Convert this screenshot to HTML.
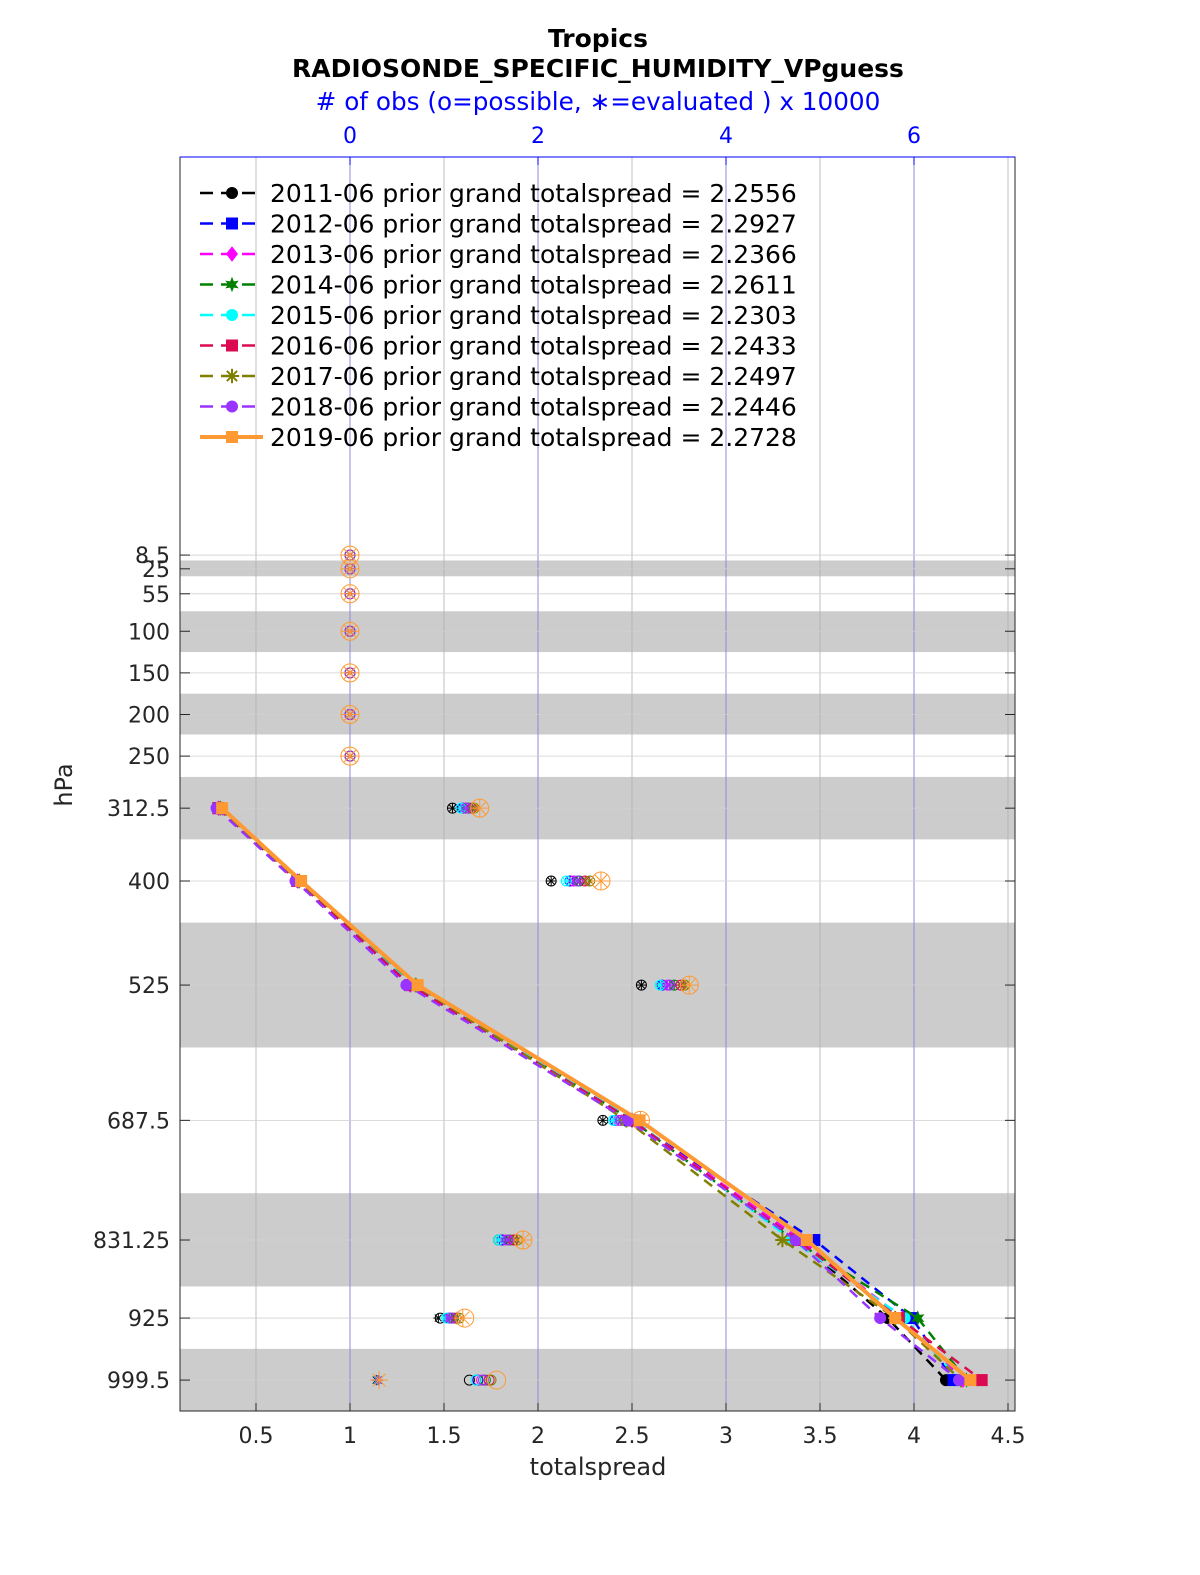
<!DOCTYPE html>
<html><head><meta charset="utf-8"><style>
body{margin:0;background:#fff}
svg{display:block;font-family:"DejaVu Sans","Liberation Sans",sans-serif}
</style></head><body>
<svg id="chart" width="1200" height="1575">
<rect width="1200" height="1575" fill="#fff"/>
<g id="bands"></g><g id="grid"></g><g id="marks"></g><g id="axes"></g><g id="legend"></g>
<text x="598" y="47" text-anchor="middle" font-size="25" font-weight="bold">Tropics</text>
<text x="598" y="77" text-anchor="middle" font-size="25" font-weight="bold">RADIOSONDE_SPECIFIC_HUMIDITY_VPguess</text>
<text x="598" y="110" text-anchor="middle" font-size="24.7" fill="#0000ff"># of obs (o=possible, ∗=evaluated ) x 10000</text>
<text x="598" y="1475" text-anchor="middle" font-size="24" fill="#262626">totalspread</text>
<text transform="translate(72,785) rotate(-90)" text-anchor="middle" font-size="24" fill="#262626">hPa</text>
</svg>
<script>
const levels=[8.5,25,55,100,150,200,250,312.5,400,525,687.5,831.25,925,999.5];
const levelLabels=["8.5","25","55","100","150","200","250","312.5","400","525","687.5","831.25","925","999.5"];
const dataLevels=[312.5,400,525,687.5,831.25,925,999.5];
const bands=[[15,34],[76,125],[175,224],[275,350],[450,600],[775,887],[962,1037]];
const xTicks=[0.5,1,1.5,2,2.5,3,3.5,4,4.5];
const xTickLabels=["0.5","1","1.5","2","2.5","3","3.5","4","4.5"];
const obsTicks=[0,2,4,6];
const seriesNames=["2011-06","2012-06","2013-06","2014-06","2015-06","2016-06","2017-06","2018-06","2019-06"];
const seriesTotals=["2.2556","2.2927","2.2366","2.2611","2.2303","2.2433","2.2497","2.2446","2.2728"];
const s2011=[0.30,0.72,1.32,2.50,3.38,3.86,4.17];
const s2012=[0.30,0.72,1.32,2.49,3.47,3.99,4.21];
const s2013=[0.30,0.72,1.32,2.50,3.40,3.94,4.26];
const s2014=[0.31,0.73,1.35,2.50,3.36,4.02,4.28];
const s2015=[0.30,0.73,1.33,2.51,3.35,3.95,4.24];
const s2016=[0.30,0.72,1.32,2.50,3.38,3.92,4.36];
const s2017=[0.31,0.73,1.35,2.47,3.30,3.90,4.25];
const s2018=[0.29,0.71,1.30,2.48,3.37,3.82,4.24];
const s2019=[0.32,0.74,1.36,2.54,3.43,3.90,4.30];
const p2011=[1.09,2.14,3.10,2.69,1.58,0.96,1.27];
const p2012=[1.20,2.34,3.32,2.82,1.62,1.05,1.36];
const p2013=[1.23,2.38,3.38,2.86,1.66,1.07,1.40];
const p2014=[1.26,2.44,3.45,2.92,1.70,1.10,1.44];
const p2015=[1.18,2.30,3.30,2.80,1.58,1.03,1.34];
const p2016=[1.30,2.50,3.52,2.98,1.74,1.13,1.48];
const p2017=[1.32,2.55,3.56,3.02,1.78,1.16,1.50];
const p2018=[1.24,2.42,3.40,2.88,1.68,1.08,1.42];
const p2019=[1.38,2.67,3.61,3.09,1.84,1.22,1.56];
const e2011=[1.09,2.14,3.10,2.69,1.58,0.94,0.28];
const e2012=[1.20,2.34,3.32,2.82,1.62,1.03,0.29];
const e2013=[1.23,2.38,3.38,2.86,1.66,1.05,0.30];
const e2014=[1.26,2.44,3.45,2.92,1.70,1.08,0.30];
const e2015=[1.18,2.30,3.30,2.80,1.58,1.01,0.29];
const e2016=[1.30,2.50,3.52,2.98,1.74,1.11,0.30];
const e2017=[1.32,2.55,3.56,3.02,1.78,1.14,0.31];
const e2018=[1.24,2.42,3.40,2.88,1.68,1.06,0.30];
const e2019=[1.38,2.67,3.61,3.09,1.84,1.20,0.31];
const spreads=[s2011,s2012,s2013,s2014,s2015,s2016,s2017,s2018,s2019];
const possible=[p2011,p2012,p2013,p2014,p2015,p2016,p2017,p2018,p2019];
const evaluated=[e2011,e2012,e2013,e2014,e2015,e2016,e2017,e2018,e2019];
const colors=["#000000","#0000ff","#ff00ff","#008000","#00ffff","#dc0a50","#808000","#9933ff","#ff9933"];
const markers=["circle","square","diamond","star","circle","square","asterisk","circle","square"];
const L=180,R=1015,T=157,B=1411;
const xS=v=>350+(v-1)*188;
const oS=v=>350+v*94;
const yS=p=>548+p*0.8325;
const NS="http://www.w3.org/2000/svg";
function mk(tag,attrs,parent){const e=document.createElementNS(NS,tag);for(const k in attrs)e.setAttribute(k,attrs[k]);parent.appendChild(e);return e;}
const gB=document.getElementById('bands'),gG=document.getElementById('grid'),gM=document.getElementById('marks'),gA=document.getElementById('axes'),gL=document.getElementById('legend');
bands.forEach(b=>{const r=mk('rect',{x:L,y:yS(b[0]),width:R-L,height:yS(b[1])-yS(b[0]),fill:'#cccccc'},gB);

});
xTicks.forEach((t,i)=>{const l=mk('line',{x1:xS(t),x2:xS(t),y1:T,y2:B,stroke:'#b0b0b0','stroke-width':0.8},gG);


mk('line',{x1:xS(t),x2:xS(t),y1:B,y2:B-8,stroke:'#262626'},gA);
const tx=mk('text',{x:xS(t),y:B+32,'text-anchor':'middle','font-size':22,fill:'#262626'},gA);tx.textContent=xTickLabels[i];

});
obsTicks.forEach(t=>{const l=mk('line',{x1:oS(t),x2:oS(t),y1:T,y2:B,stroke:'#8080e0','stroke-width':0.8},gG);


mk('line',{x1:oS(t),x2:oS(t),y1:T,y2:T+8,stroke:'#0000ff'},gA);
const tx=mk('text',{x:oS(t),y:T-14,'text-anchor':'middle','font-size':22,fill:'#0000ff'},gA);tx.textContent=String(t);

});
levels.forEach((p,i)=>{const l=mk('line',{x1:L,x2:R,y1:yS(p),y2:yS(p),stroke:'#d0d0d0','stroke-width':0.8},gG);


mk('line',{x1:L,x2:L+10,y1:yS(p),y2:yS(p),stroke:'#262626'},gA);
mk('line',{x1:R-10,x2:R,y1:yS(p),y2:yS(p),stroke:'#262626'},gA);
const tx=mk('text',{x:L-10,y:yS(p)+8,'text-anchor':'end','font-size':22,fill:'#262626'},gA);tx.textContent=levelLabels[i];

});
const frame=mk('rect',{x:L,y:T,width:R-L,height:B-T,fill:'none',stroke:'#262626','stroke-width':1},gA);


mk('line',{x1:L,x2:R,y1:T,y2:T,stroke:'#0000ff'},gA);
function marker(type,x,y,c,s,parent){
 if(type==='circle')return mk('circle',{cx:x,cy:y,r:s,fill:c},parent);
 if(type==='square')return mk('rect',{x:x-s,y:y-s,width:2*s,height:2*s,fill:c},parent);
 if(type==='diamond')return mk('polygon',{points:`${x},${y-s*1.3} ${x+s},${y} ${x},${y+s*1.3} ${x-s},${y}`,fill:c},parent);
 if(type==='star'){let pts=[];for(let k=0;k<12;k++){const r=k%2?s*0.6:s*1.3,a=k*Math.PI/6-Math.PI/2;pts.push((x+r*Math.cos(a)).toFixed(1)+','+(y+r*Math.sin(a)).toFixed(1));}return mk('polygon',{points:pts.join(' '),fill:c},parent);}
 const g=mk('g',{stroke:c,'stroke-width':2},parent);
 for(let k=0;k<4;k++){const a=k*Math.PI/4;mk('line',{x1:x-s*1.2*Math.cos(a),y1:y-s*1.2*Math.sin(a),x2:x+s*1.2*Math.cos(a),y2:y+s*1.2*Math.sin(a)},g);}
 return g;}
function astr(x,y,c,s,parent){const g=mk('g',{stroke:c,'stroke-width':1},parent);
 for(let k=0;k<4;k++){const a=k*Math.PI/4;mk('line',{x1:x-s*Math.cos(a),y1:y-s*Math.sin(a),x2:x+s*Math.cos(a),y2:y+s*Math.sin(a)},g);}return g;}
spreads.forEach((_,si)=>{
 const g=mk('g',{},gM);
 
 
 const big=si===8;
 levels.forEach(p=>{const di=dataLevels.indexOf(p);
  const pv=di<0?0:possible[si][di], ev=di<0?0:evaluated[si][di];
  mk('circle',{cx:oS(pv),cy:yS(p),r:big?9:5,fill:'none',stroke:colors[si],'stroke-width':1},g);
  astr(oS(ev),yS(p),colors[si],big?9:5,g);});
});
spreads.forEach((vals,si)=>{
 const g=mk('g',{},gM);
 
 
 const pts=vals.map((v,i)=>xS(v).toFixed(1)+','+yS(dataLevels[i]).toFixed(1)).join(' ');
 const last=si===8;
 mk('polyline',{points:pts,fill:'none',stroke:colors[si],'stroke-width':last?4:2.5,'stroke-dasharray':last?'none':'10,7'},g);
 vals.forEach((v,i)=>marker(markers[si],xS(v),yS(dataLevels[i]),colors[si],6,g));
});
seriesNames.forEach((n,i)=>{
 const y=193+i*30.5;
 const g=mk('g',{},gL);
 
 
 const last=i===8;
 mk('line',{x1:200,x2:263,y1:y,y2:y,stroke:colors[i],'stroke-width':last?4:2.5,'stroke-dasharray':last?'none':'13,8'},g);
 marker(markers[i],232,y,colors[i],6,g);
 const t=mk('text',{x:270,y:y+9,'font-size':25,fill:'#000'},g);
 t.textContent=n+' prior grand totalspread = '+seriesTotals[i];
});
</script>
</body></html>
